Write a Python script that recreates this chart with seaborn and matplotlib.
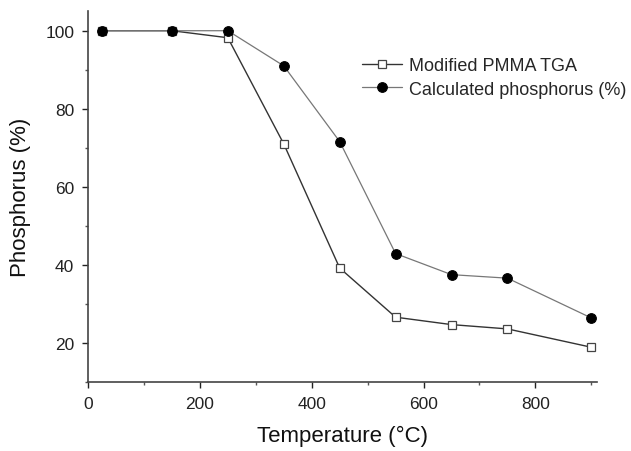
import numpy as np
import matplotlib.pyplot as plt
from matplotlib.ticker import MultipleLocator
import pandas as pd
import seaborn as sns

# 溫度 (°C)
temperature = [25, 150, 250, 350, 450, 550, 650, 750, 900]
# 兩條曲線
tga_values = [100, 100, 98.2, 71, 39.2, 26.6, 24.7, 23.6, 18.9]
calc_values = [100, 100, 100, 91, 71.6, 42.9, 37.5, 36.6, 26.4]

sns.set_style('ticks')
plt.rcParams['font.family'] = ['Liberation Sans', 'DejaVu Sans']

fig = plt.figure(figsize=(6.31, 4.52), dpi=100)
ax = fig.add_axes([0.1395, 0.1527, 0.8065, 0.8203])

df_tga = pd.DataFrame({'T': temperature, 'v': tga_values})
df_calc = pd.DataFrame({'T': temperature, 'v': calc_values})

sns.lineplot(data=df_tga, x='T', y='v', ax=ax, color='#333333', linewidth=1.0,
             marker='s', markersize=5.5, markerfacecolor='white',
             markeredgecolor='#444444', markeredgewidth=0.9,
             label='Modified PMMA TGA')
sns.lineplot(data=df_calc, x='T', y='v', ax=ax, color='#777777', linewidth=0.9,
             marker='o', markersize=7, markerfacecolor='black',
             markeredgecolor='black', label='Calculated phosphorus (%)')

ax.set_xlim(0, 910)
ax.set_ylim(10, 105)
ax.xaxis.set_major_locator(MultipleLocator(200))
ax.xaxis.set_minor_locator(MultipleLocator(100))
ax.yaxis.set_major_locator(MultipleLocator(20))
ax.yaxis.set_minor_locator(MultipleLocator(10))
ax.tick_params(which='major', length=4, width=1, labelsize=12.5, colors='#222222', pad=6)
ax.tick_params(which='minor', length=2.5, width=1, colors='#555555')
for s in ['left', 'bottom']:
    ax.spines[s].set_linewidth(1.2)
    ax.spines[s].set_color('#444444')
sns.despine(ax=ax)

ax.set_xlabel('Temperature (°C)', fontsize=16, color='#111111', labelpad=10)
ax.set_ylabel('Phosphorus (%)', fontsize=16, color='#111111', labelpad=10)

ax.legend(loc='upper left', bbox_to_anchor=(0.525, 0.895), frameon=False,
          fontsize=13, handlelength=2.2, handletextpad=0.4, borderaxespad=0,
          labelspacing=0.35)

fig.savefig('out.png', dpi=100)
